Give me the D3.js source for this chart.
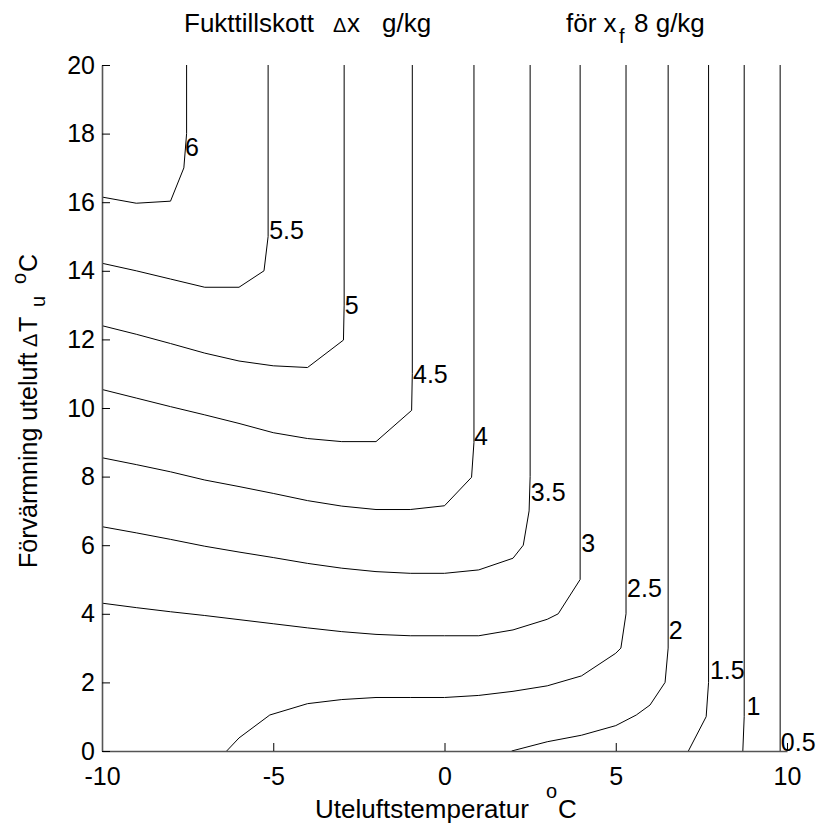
<!DOCTYPE html>
<html>
<head>
<meta charset="utf-8">
<script src="https://cdn.jsdelivr.net/npm/d3@7"></script>
<style>
  body { margin: 0; background: #fff; }
  svg { display: block; }
  text { font-family: "Liberation Sans", Arial, Helvetica, sans-serif; fill: #000; }
</style>
</head>
<body>
<svg id="chart" width="819" height="830"></svg>
<script>
// ---- data ----
const xTicks = [-10, -5, 0, 5, 10];
const yTicks = [0, 2, 4, 6, 8, 10, 12, 14, 16, 18, 20];
const levels = [6, 5.5, 5, 4.5, 4, 3.5, 3, 2.5, 2, 1.5, 1, 0.5];
const levelLabels = ["6", "5.5", "5", "4.5", "4", "3.5", "3", "2.5", "2", "1.5", "1", "0.5"];

const c6   = [[-10,16.15],[-9,15.97],[-8,16.03],[-7.61,17],[-7.53,18],[-7.53,20]];
const c5_5 = [[-10,14.22],[-9,14.0],[-8,13.76],[-7,13.52],[-6,13.52],[-5.27,14],[-5.15,15],[-5.15,20]];
const c5   = [[-10,12.4],[-9,12.15],[-8,11.88],[-7,11.6],[-6,11.37],[-5,11.23],[-4,11.18],[-2.95,11.98],[-2.93,13],[-2.93,20]];
const c4_5 = [[-10,10.54],[-9,10.29],[-8,10.04],[-7,9.8],[-6,9.55],[-5,9.28],[-4,9.11],[-3,9.02],[-2,9.02],[-0.96,9.93],[-0.94,11],[-0.94,20]];
const c4   = [[-10,8.55],[-9,8.35],[-8,8.14],[-7,7.9],[-6,7.71],[-5,7.51],[-4,7.3],[-3,7.14],[-2,7.04],[-1,7.04],[0,7.15],[0.79,7.98],[0.86,9],[0.86,20]];
const c3_5 = [[-10,6.54],[-9,6.36],[-8,6.17],[-7,5.97],[-6,5.8],[-5,5.64],[-4,5.47],[-3,5.33],[-2,5.23],[-1,5.18],[0,5.18],[1,5.28],[2,5.62],[2.3,6],[2.47,7],[2.5,8],[2.5,20]];
const c3   = [[-10,4.31],[-9,4.18],[-8,4.06],[-7,3.95],[-6,3.83],[-5,3.71],[-4,3.59],[-3,3.48],[-2,3.4],[-1,3.36],[0,3.36],[1,3.36],[2,3.53],[3,3.84],[3.32,4],[3.96,5],[3.96,20]];
const c2_5 = [[-6.36,0],[-6,0.38],[-5.1,1.05],[-4,1.38],[-3,1.5],[-2,1.56],[-1,1.56],[0,1.56],[1,1.62],[2,1.74],[3,1.9],[4,2.19],[5,2.85],[5.15,3],[5.3,4],[5.3,20]];
const c2   = [[1.96,0],[3,0.27],[4,0.46],[5,0.74],[5.6,1.05],[6,1.34],[6.44,2],[6.53,3],[6.53,20]];
const c1_5 = [[7.12,0],[7.64,1],[7.71,2],[7.71,20]];
const c1   = [[8.71,0],[8.75,1],[8.75,20]];
const c0_5 = [[9.8,0],[9.8,20]];
const contourLines = [c6, c5_5, c5, c4_5, c4, c3_5, c3, c2_5, c2, c1_5, c1, c0_5];
// label anchor (left/baseline) in data coordinates
const labelAnchors = [[-7.58,17.35],[-5.12,14.93],[-2.91,12.74],[-0.92,10.74],[0.86,8.92],[2.52,7.3],[3.99,5.81],[5.33,4.5],[6.55,3.27],[7.75,2.1],[8.82,1.05],[9.82,0]];

// ---- layout ----
const svg = d3.select("#chart");
const x = d3.scaleLinear().domain([-10, 10]).range([102, 787]);
const y = d3.scaleLinear().domain([0, 20]).range([751, 65]);
const FONT = '"Liberation Sans", Arial, Helvetica, sans-serif';

// contours
const line = d3.line().x(d => x(d[0])).y(d => y(d[1]));
svg.append("g").selectAll("path")
  .data(contourLines)
  .join("path")
  .attr("d", line)
  .attr("fill", "none")
  .attr("stroke", "#000")
  .attr("stroke-width", 1);

svg.append("g").selectAll("text")
  .data(levels)
  .join("text")
  .attr("x", (d, i) => x(labelAnchors[i][0]))
  .attr("y", (d, i) => y(labelAnchors[i][1]))
  .attr("font-size", 25)
  .text((d, i) => levelLabels[i]);

// axes
const xAxis = d3.axisBottom(x).tickValues(xTicks).tickSizeInner(-8).tickSizeOuter(0).tickPadding(16)
  .tickFormat(d => String(d));
const yAxis = d3.axisLeft(y).tickValues(yTicks).tickSizeInner(-8).tickSizeOuter(0).tickPadding(7)
  .tickFormat(d => String(d));

const gx = svg.append("g").attr("transform", `translate(0,${y(0)})`).call(xAxis);
const gy = svg.append("g").attr("transform", `translate(${x(-10)},0)`).call(yAxis);
[gx, gy].forEach(g => {
  g.attr("font-family", FONT).attr("font-size", 25);
  g.selectAll("text").attr("fill", "#000");
  g.selectAll("line").attr("stroke", "#000").attr("stroke-width", 1);
  g.select(".domain").attr("stroke", "#555").attr("stroke-width", 1.6);
});

// title
const t = svg.append("g");
t.append("text").attr("x", 184).attr("y", 32).attr("font-size", 26).text("Fukttillskott");
t.append("text").attr("x", 333).attr("y", 32).attr("font-size", 20).text("\u0394");
t.append("text").attr("x", 347).attr("y", 32).attr("font-size", 26).text("x");
t.append("text").attr("x", 382).attr("y", 32).attr("font-size", 26).text("g/kg");
t.append("text").attr("x", 566).attr("y", 32).attr("font-size", 26).text("f\u00f6r x");
t.append("text").attr("x", 619).attr("y", 43).attr("font-size", 20).text("f");
t.append("text").attr("x", 634).attr("y", 32).attr("font-size", 26).text("8 g/kg");

// x label
const xl = svg.append("g");
xl.append("text").attr("x", 315).attr("y", 818).attr("font-size", 26).text("Uteluftstemperatur");
xl.append("text").attr("x", 546).attr("y", 798).attr("font-size", 20).text("o");
xl.append("text").attr("x", 558).attr("y", 818).attr("font-size", 26).text("C");

// y label (rotated)
const yl = svg.append("g").attr("transform", "translate(37,568) rotate(-90)");
yl.append("text").attr("x", 0).attr("y", 0).attr("font-size", 25).text("F\u00f6rv\u00e4rmning uteluft");
yl.append("text").attr("x", 221).attr("y", 0).attr("font-size", 20).text("\u0394");
yl.append("text").attr("x", 236).attr("y", 0).attr("font-size", 25).text("T");
yl.append("text").attr("x", 261).attr("y", 8).attr("font-size", 20).text("u");
yl.append("text").attr("x", 284).attr("y", -11).attr("font-size", 20).text("o");
yl.append("text").attr("x", 296).attr("y", 0).attr("font-size", 25).text("C");
</script>
</body>
</html>
